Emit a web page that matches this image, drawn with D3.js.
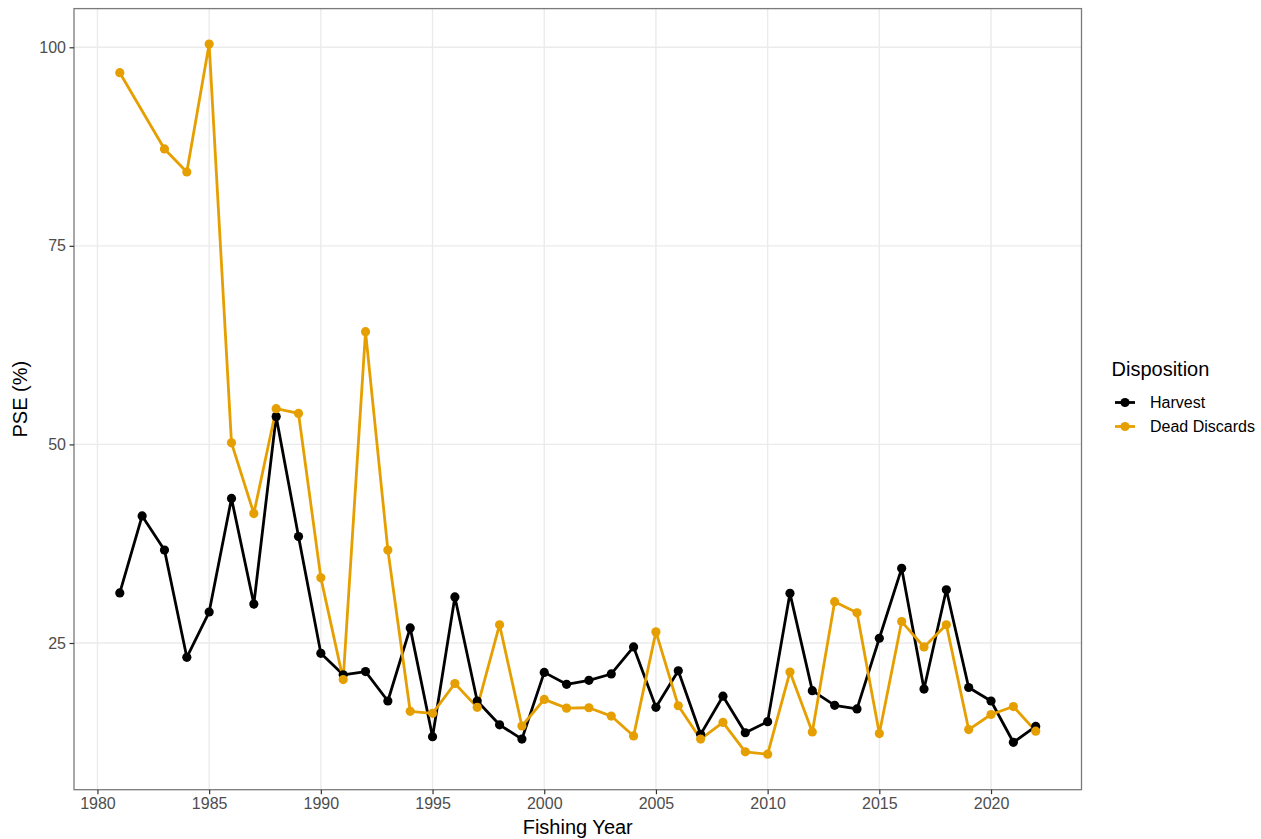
<!DOCTYPE html>
<html>
<head>
<meta charset="utf-8">
<script src="https://cdn.jsdelivr.net/npm/d3@7"></script>
<style>
  html, body { margin: 0; padding: 0; background: #fff; }
  svg { display: block; font-family: "Liberation Sans", Arial, sans-serif; }
</style>
</head>
<body>
<svg id="chart" width="1261" height="839"></svg>
<script>
const years = d3.range(1981, 2023);
const harvest = [31.3, 41.0, 36.7, 23.2, 28.9, 43.2, 29.9, 53.5, 38.4, 23.7,
  21.0, 21.4, 17.7, 26.9, 13.2, 30.8, 17.7, 14.7, 12.9, 21.3,
  19.8, 20.3, 21.1, 24.5, 16.9, 21.5, 13.5, 18.3, 13.7, 15.1,
  31.25, 19.0, 17.15, 16.7, 25.6, 34.4, 19.2, 31.7, 19.4, 17.7,
  12.5, 14.5];
const deadDiscards = [96.8, null, 87.2, 84.3, 100.4, 50.2, 41.3, 54.5, 53.9, 33.2,
  20.4, 64.2, 36.7, 16.4, 16.15, 19.9, 16.9, 27.3, 14.55, 17.9,
  16.8, 16.85, 15.8, 13.3, 26.4, 17.1, 12.9, 15.0, 11.3, 11.0,
  21.35, 13.8, 30.2, 28.8, 13.6, 27.7, 24.5, 27.3, 14.1, 16.0,
  17.0, 13.9];
const seriesNames = ["Harvest", "Dead Discards"];
const seriesColors = ["#000000", "#E69F00"];
const xTicks = [1980, 1985, 1990, 1995, 2000, 2005, 2010, 2015, 2020];
const yTicks = [25, 50, 75, 100];

const series = [harvest, deadDiscards].map((vals, i) => ({
  name: seriesNames[i],
  color: seriesColors[i],
  points: years.map((yr, j) => ({ x: yr, y: vals[j] })).filter(d => d.y != null)
}));

const svg = d3.select("#chart");
const P = { left: 74, right: 1081.5, top: 8.6, bottom: 789.7 };

const allY = series.flatMap(s => s.points.map(d => d.y));
const [yMin, yMax] = d3.extent(allY);
const yPad = (yMax - yMin) * 0.05;
const [xMin, xMax] = d3.extent(years);
const xPad = (xMax - xMin) * 0.05;

const x = d3.scaleLinear().domain([xMin - xPad, xMax + xPad]).range([P.left, P.right]);
const y = d3.scaleLinear().domain([yMin - yPad, yMax + yPad]).range([P.bottom, P.top]);

// grid
const grid = svg.append("g");
grid.selectAll("line.v").data(xTicks).join("line")
  .attr("x1", d => x(d)).attr("x2", d => x(d))
  .attr("y1", P.top).attr("y2", P.bottom)
  .attr("stroke", "#ebebeb").attr("stroke-width", 1.4);
grid.selectAll("line.h").data(yTicks).join("line")
  .attr("y1", d => y(d)).attr("y2", d => y(d))
  .attr("x1", P.left).attr("x2", P.right)
  .attr("stroke", "#ebebeb").attr("stroke-width", 1.4);

// lines
const line = d3.line().x(d => x(d.x)).y(d => y(d.y));
svg.append("g").selectAll("path").data(series).join("path")
  .attr("d", s => line(s.points))
  .attr("fill", "none")
  .attr("stroke", s => s.color)
  .attr("stroke-width", 2.8)
  .attr("stroke-linejoin", "round");

// points
series.forEach(s => {
  svg.append("g").selectAll("circle").data(s.points).join("circle")
    .attr("cx", d => x(d.x)).attr("cy", d => y(d.y)).attr("r", 4.6)
    .attr("fill", s.color);
});

// panel border
svg.append("rect")
  .attr("x", P.left).attr("y", P.top)
  .attr("width", P.right - P.left).attr("height", P.bottom - P.top)
  .attr("fill", "none").attr("stroke", "#7a7a7a").attr("stroke-width", 1.3);

// axes
const xAxis = d3.axisBottom(x).tickValues(xTicks).tickFormat(d3.format("d")).tickSize(4.5).tickPadding(3);
const gx = svg.append("g").attr("transform", `translate(0,${P.bottom})`).call(xAxis);
gx.select(".domain").remove();
gx.selectAll(".tick line").attr("stroke", "#333").attr("stroke-width", 1.2);
gx.selectAll(".tick text").attr("fill", "#4d4d4d").attr("font-size", 16)
  .attr("font-family", "Liberation Sans, Arial, sans-serif");

const yAxis = d3.axisLeft(y).tickValues(yTicks).tickSize(4.5).tickPadding(3.5);
const gy = svg.append("g").attr("transform", `translate(${P.left},0)`).call(yAxis);
gy.select(".domain").remove();
gy.selectAll(".tick line").attr("stroke", "#333").attr("stroke-width", 1.2);
gy.selectAll(".tick text").attr("fill", "#4d4d4d").attr("font-size", 16)
  .attr("font-family", "Liberation Sans, Arial, sans-serif");

// axis titles
svg.append("text")
  .attr("x", (P.left + P.right) / 2).attr("y", 834.3)
  .attr("text-anchor", "middle").attr("font-size", 20).attr("fill", "#000")
  .text("Fishing Year");
svg.append("text")
  .attr("transform", `translate(26.5,${(P.top + P.bottom) / 2}) rotate(-90)`)
  .attr("text-anchor", "middle").attr("font-size", 20).attr("fill", "#000")
  .text("PSE (%)");

// legend
const lg = svg.append("g");
lg.append("text").attr("x", 1111.5).attr("y", 375.7)
  .attr("font-size", 20).attr("fill", "#000").text("Disposition");
const keyY = [402.5, 426.5];
series.forEach((s, i) => {
  lg.append("line").attr("x1", 1115).attr("x2", 1135)
    .attr("y1", keyY[i]).attr("y2", keyY[i])
    .attr("stroke", s.color).attr("stroke-width", 2.8);
  lg.append("circle").attr("cx", 1125).attr("cy", keyY[i]).attr("r", 4.6).attr("fill", s.color);
  lg.append("text").attr("x", 1150).attr("y", keyY[i]).attr("dy", "0.36em")
    .attr("font-size", 16).attr("fill", "#000").text(s.name);
});
</script>
</body>
</html>
